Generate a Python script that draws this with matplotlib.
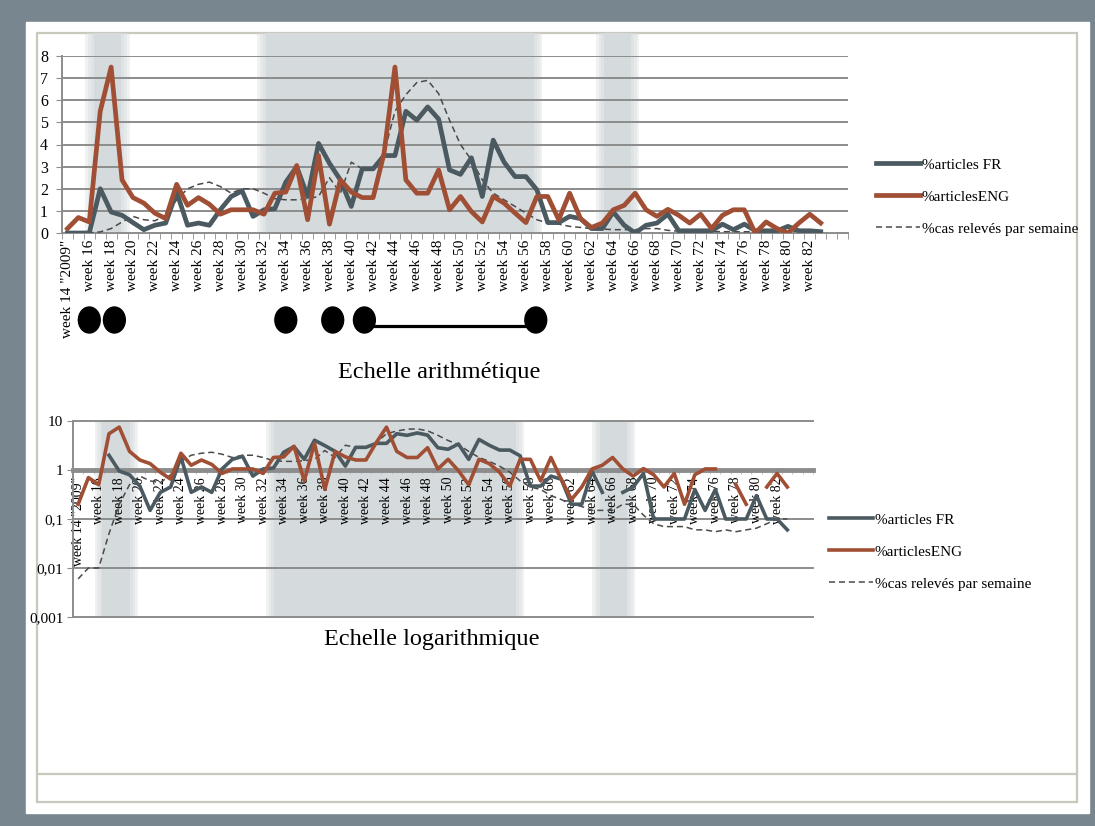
import numpy as np
import matplotlib
matplotlib.use('Agg')
import matplotlib.pyplot as plt
import matplotlib.transforms as mtransforms
from matplotlib.patches import Rectangle, Ellipse
from matplotlib.lines import Line2D

plt.rcParams['font.family'] = ['Liberation Serif', 'DejaVu Serif']

# donnees (semaines 14 a 83)
semaines = np.arange(14, 84)
articles_fr = [0, 0, 0, 2.0, 0.95, 0.8, 0.47, 0.15, 0.35, 0.45,
               1.85, 0.35, 0.45, 0.35, 1.05, 1.65, 1.9, 0.75, 1.05, 1.1,
               2.3, 3.0, 1.65, 4.05, 3.15, 2.4, 1.2, 2.9, 2.9, 3.5,
               3.5, 5.5, 5.1, 5.7, 5.15, 2.85, 2.65, 3.4, 1.65, 4.2,
               3.2, 2.55, 2.55, 1.95, 0.47, 0.47, 0.75, 0.65, 0.2, 0.2,
               0.95, 0.35, 0, 0.35, 0.45, 0.85, 0.1, 0.1, 0.1, 0.1,
               0.4, 0.15, 0.4, 0.1, 0.1, 0.1, 0.3, 0.1, 0.1, 0.06]
articles_eng = [0.2, 0.7, 0.5, 5.5, 7.5, 2.4, 1.6, 1.35, 0.9, 0.65,
                2.2, 1.25, 1.6, 1.3, 0.85, 1.05, 1.05, 1.05, 0.85, 1.8,
                1.85, 3.05, 0.6, 3.5, 0.4, 2.4, 1.85, 1.6, 1.6, 3.6,
                7.5, 2.4, 1.8, 1.8, 2.85, 1.05, 1.65, 0.97, 0.5, 1.65,
                1.35, 0.9, 0.47, 1.65, 1.65, 0.6, 1.8, 0.65, 0.25, 0.45,
                1.05, 1.25, 1.8, 1.05, 0.75, 1.07, 0.8, 0.45, 0.85, 0.2,
                0.8, 1.05, 1.05, 0, 0.5, 0.2, 0, 0.45, 0.85, 0.45]
cas_releves = [0.006, 0.01, 0.01, 0.05, 0.2, 0.5, 0.75, 0.6, 0.55, 0.8,
               1.5, 2.0, 2.2, 2.3, 2.1, 1.8, 2.0, 2.0, 1.8, 1.55,
               1.5, 1.5, 1.55, 1.65, 2.5, 1.8, 3.2, 2.9, 2.9, 3.6,
               5.5, 6.25, 6.8, 6.9, 6.3, 5.1, 4.0, 3.3, 2.4, 1.8,
               1.5, 1.2, 0.9, 0.6, 0.45, 0.4, 0.3, 0.25, 0.2, 0.18,
               0.15, 0.15, 0.15, 0.2, 0.2, 0.12, 0.08, 0.07, 0.07, 0.07,
               0.06, 0.06, 0.055, 0.06, 0.055, 0.06, 0.065, 0.08, 0.1, 0.1]

positions_etiquettes = list(range(14, 84, 2))
etiquettes = ['week 14 "2009"'] + ['week %d' % w for w in range(16, 84, 2)]

bandes_haut = [(16.05, 19.3), (31.8, 57.1), (62.8, 66.0)]
bandes_bas = [(16.0, 19.4), (32.7, 57.0), (64.4, 67.8)]
points_evenements = [16, 18.3, 34, 38.3, 41.2, 56.9]

col_fr = '#4b5960'
col_eng = '#a04f35'
col_cas = '#4a4a4a'
col_grille = '#8c8c8c'
col_bande = '#d5dadc'

W, H = 1095, 826


def fx(x):
    return x / W


def fy(y):
    return 1 - y / H


def bande(ax, x0, x1, haut=1.0):
    trans = mtransforms.blended_transform_factory(ax.transData, ax.transAxes)
    ax.add_patch(Rectangle((x0 + 0.35, 0), x1 - x0 - 0.7, haut, transform=trans,
                           color=col_bande, lw=0, zorder=0, clip_on=False))
    for k in range(1, 4):
        e = 0.35 - 0.25 * k
        ax.add_patch(Rectangle((x0 + e, 0), x1 - x0 - 2 * e, haut, transform=trans,
                               color=col_bande, alpha=0.35, lw=0, zorder=0, clip_on=False))


fig = plt.figure(figsize=(W / 100, H / 100), dpi=100)
fig.patch.set_facecolor('#78878f')

# cadre blanc facon capture d'ecran
fig.add_artist(Rectangle((fx(26), fy(813)), fx(1089) - fx(26), fy(22) - fy(813),
                         transform=fig.transFigure, color='white', zorder=-10))
fig.add_artist(Rectangle((fx(37), fy(802)), fx(1077) - fx(37), fy(33) - fy(802),
                         transform=fig.transFigure, fill=False, ec='#c8c8bc', lw=1.6, zorder=-9))
fig.add_artist(Line2D([fx(37), fx(1077)], [fy(774), fy(774)], transform=fig.transFigure,
                      color='#c8c8bc', lw=1.6, zorder=-9))

# ---- echelle arithmetique ----
ax1 = fig.add_axes([fx(62), fy(233), fx(848) - fx(62), fy(56) - fy(233)])
ax1.set_facecolor('none')
for x0, x1 in bandes_haut:
    bande(ax1, x0, x1, haut=(233 - 33) / (233 - 56))
for v in range(1, 9):
    ax1.axhline(v, color=col_grille, lw=1.4, zorder=1)
ax1.plot(semaines, cas_releves, color=col_cas, lw=1.1, ls=(0, (4, 2.5)), zorder=3,
         label='%cas relevés par semaine')
ax1.plot(semaines, articles_fr, color=col_fr, lw=3.4, solid_joinstyle='round', zorder=4,
         label='%articles FR')
ax1.plot(semaines, articles_eng, color=col_eng, lw=3.4, solid_joinstyle='round', zorder=5,
         label='%articlesENG')
ax1.set_xlim(13.5, 85.5)
ax1.set_ylim(0, 8)
ax1.set_yticks(range(0, 9))
ax1.set_xticks(positions_etiquettes)
ax1.set_xticklabels(etiquettes, rotation=90, va='top', ha='center', fontsize=11)
ax1.set_xticks(np.arange(13.5, 86, 1), minor=True)
ax1.tick_params(axis='x', which='major', length=0, pad=5)
ax1.tick_params(axis='x', which='minor', length=4, color=col_grille)
ax1.tick_params(axis='y', length=4, color=col_grille, labelsize=11.5, pad=6)
for s in ['top', 'right']:
    ax1.spines[s].set_visible(False)
for s in ['left', 'bottom']:
    ax1.spines[s].set_color(col_grille)
    ax1.spines[s].set_linewidth(1.4)

# evenements
trans1 = mtransforms.blended_transform_factory(ax1.transData, ax1.transAxes)
ypt = (233 - 320) / (233 - 56)
ax1.add_line(Line2D([points_evenements[4], points_evenements[5]], [(233 - 326) / 177] * 2,
                    transform=trans1, color='black', lw=2.3, clip_on=False))
for p in points_evenements:
    ax1.add_patch(Ellipse((p, ypt), 2.0, 26 / 177, transform=trans1, color='black',
                          clip_on=False, zorder=6))

h1, l1 = ax1.get_legend_handles_labels()
ordre = [1, 2, 0]
ax1.legend([h1[i] for i in ordre], [l1[i] for i in ordre], loc='upper left',
           bbox_to_anchor=(fx(876), fy(158)), bbox_transform=fig.transFigure,
           frameon=False, fontsize=11, borderpad=0, borderaxespad=0,
           handlelength=2.9, handletextpad=0.1, labelspacing=1.2)

fig.text(fx(439), fy(373), 'Echelle arithmétique', ha='center', va='center', fontsize=17.5)

# ---- echelle logarithmique ----
ax2 = fig.add_axes([fx(73), fy(617), fx(813) - fx(73), fy(421) - fy(617)])
ax2.set_facecolor('none')
ax2.set_yscale('log')
ax2.spines['bottom'].set_position(('data', 1))
for x0, x1 in bandes_bas:
    bande(ax2, x0, x1)
for v in [10, 0.1, 0.01, 0.001]:
    ax2.axhline(v, color=col_grille, lw=1.4, zorder=1, clip_on=False)


def log_ok(vals):
    a = np.array(vals, dtype=float)
    return np.where(a > 0, a, np.nan)


ax2.plot(semaines, log_ok(cas_releves), color=col_cas, lw=1.1, ls=(0, (4, 2.5)), zorder=3,
         label='%cas relevés par semaine')
ax2.plot(semaines, log_ok(articles_fr), color=col_fr, lw=2.6, solid_joinstyle='round', zorder=4,
         label='%articles FR')
ax2.plot(semaines, log_ok(articles_eng), color=col_eng, lw=2.6, solid_joinstyle='round', zorder=5,
         label='%articlesENG')
ax2.set_xlim(13.5, 85.5)
ax2.set_ylim(0.001, 10)
ax2.set_yticks([10, 1, 0.1, 0.01, 0.001])
ax2.set_yticklabels(['10', '1', '0,1', '0,01', '0,001'])
ax2.yaxis.set_minor_locator(matplotlib.ticker.NullLocator())
ax2.set_xticks(positions_etiquettes)
ax2.set_xticklabels(etiquettes, rotation=90, va='top', ha='center', fontsize=10)
ax2.set_xticks(np.arange(13.5, 86, 1), minor=True)
ax2.tick_params(axis='x', which='major', length=0, pad=5)
ax2.tick_params(axis='x', which='minor', length=3, color='#bbbbbb')
ax2.tick_params(axis='y', length=4, color=col_grille, labelsize=11, pad=3)
ax2.spines['bottom'].set_color(col_grille)
ax2.spines['bottom'].set_linewidth(3.5)
ax2.spines['bottom'].set_zorder(2)
ax2.spines['left'].set_color(col_grille)
ax2.spines['left'].set_linewidth(1.4)
for s in ['top', 'right']:
    ax2.spines[s].set_visible(False)

h2, l2 = ax2.get_legend_handles_labels()
ax2.legend([h2[i] for i in ordre], [l2[i] for i in ordre], loc='upper left',
           bbox_to_anchor=(fx(829), fy(513)), bbox_transform=fig.transFigure,
           frameon=False, fontsize=11, borderpad=0, borderaxespad=0,
           handlelength=2.9, handletextpad=0.1, labelspacing=1.2)

fig.text(fx(432), fy(640), 'Echelle logarithmique', ha='center', va='center', fontsize=17.5)

fig.savefig('out.png', dpi=100, facecolor=fig.get_facecolor())
